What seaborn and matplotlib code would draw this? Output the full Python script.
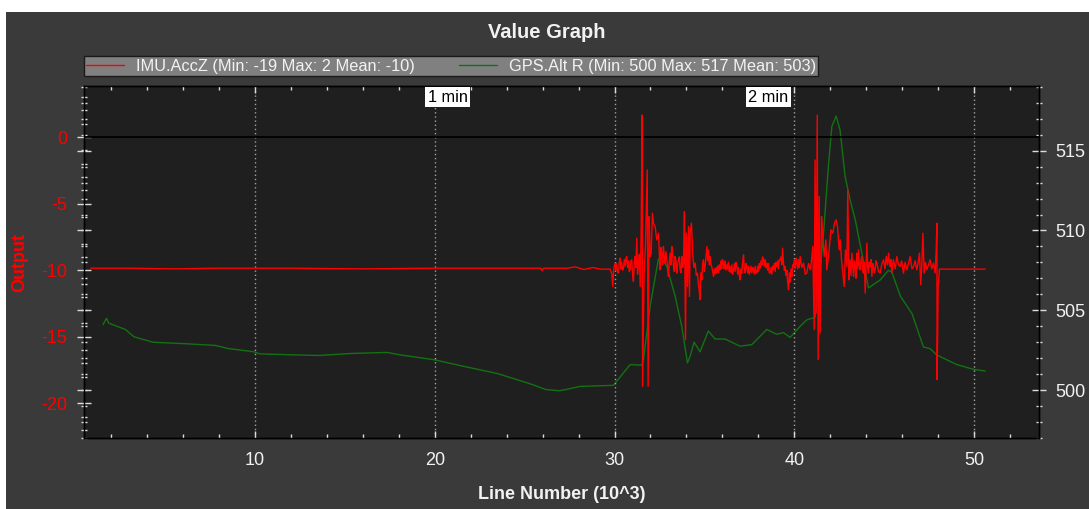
import matplotlib
matplotlib.use("Agg")
import matplotlib.pyplot as plt
import pandas as pd
import seaborn as sns
from matplotlib.patches import Rectangle
from matplotlib.ticker import MultipleLocator
from matplotlib.transforms import blended_transform_factory

sns.set_style("dark")
plt.rcParams["font.family"] = ["Liberation Sans", "DejaVu Sans"]
plt.rcParams["axes.unicode_minus"] = False

# IMU.AccZ samples as (line number in thousands, acceleration)
acc_calm = [
    (0.86, -9.85), (3.0, -9.85), (5.5, -9.9), (8.0, -9.85), (12.0, -9.85), (16.0, -9.9),
    (20.0, -9.85), (24.0, -9.85), (25.9, -9.85), (25.97, -10.05), (26.05, -9.85), (27.4, -9.85),
    (27.8, -9.75), (28.3, -9.95), (28.8, -9.8), (29.20, -9.92), (29.76, -9.92), (29.85, -10.3),
    (29.90, -11.22), (29.95, -10.0),
]
acc_takeoff = [
    (30.03, -9.47), (30.07, -10.0), (30.12, -9.5), (30.17, -10.1), (30.22, -10.22), (30.26, -9.5),
    (30.31, -9.10), (30.36, -9.9), (30.40, -9.4), (30.45, -10.0), (30.50, -9.85), (30.55, -9.2),
    (30.60, -9.7), (30.64, -9.1), (30.68, -8.97), (30.73, -9.8), (30.78, -9.3), (30.82, -10.1),
    (30.87, -9.97), (30.91, -9.3), (30.96, -9.22), (31.00, -10.2), (31.05, -10.85), (31.10, -9.5),
    (31.15, -8.97), (31.19, -9.8), (31.24, -7.60), (31.28, -10.3), (31.33, -9.72), (31.38, -8.8),
    (31.43, -11.22), (31.48, -7.22), (31.54, 1.65), (31.56, -18.72), (31.65, -10.22), (31.72, -8.22),
    (31.82, -2.47), (31.87, -18.72), (31.93, -5.97), (31.98, -8.97), (32.04, -8.72), (32.11, -5.72),
    (32.17, -6.47), (32.26, -6.72), (32.35, -7.72), (32.45, -7.22), (32.50, -9.0), (32.54, -9.97),
    (32.58, -8.3), (32.63, -8.72), (32.68, -9.6), (32.72, -8.22), (32.77, -9.0), (32.82, -9.47),
    (32.86, -8.6), (32.91, -9.22), (32.96, -9.8), (33.00, -10.47), (33.05, -9.4), (33.10, -8.72),
    (33.14, -9.6), (33.19, -8.22), (33.24, -8.9), (33.28, -9.72), (33.33, -10.1), (33.37, -8.97),
    (33.42, -9.3), (33.47, -10.22), (33.51, -9.6), (33.56, -9.22), (33.61, -9.0), (33.65, -9.97),
    (33.70, -10.2), (33.74, -8.97), (33.79, -9.8), (33.84, -9.47), (33.89, -5.60), (33.95, -15.22),
    (34.00, -7.22), (34.06, -11.22), (34.12, -6.72), (34.17, -11.97), (34.21, -7.22), (34.28, -6.47),
    (34.36, -8.97), (34.42, -9.8), (34.49, -9.47), (34.55, -10.4), (34.62, -10.22), (34.66, -11.0),
    (34.71, -11.47), (34.76, -12.22), (34.81, -10.2), (34.86, -10.72), (34.90, -9.5), (34.95, -9.22),
    (35.00, -10.1), (35.04, -9.72), (35.09, -9.0), (35.14, -8.22), (35.18, -9.3), (35.23, -8.47),
    (35.28, -9.6),
]
acc_cruise = [
    (35.32, -8.97), (35.37, -9.6), (35.41, -9.72), (35.46, -10.1), (35.51, -10.47), (35.56, -9.9),
    (35.60, -10.3), (35.65, -9.8), (35.69, -10.22), (35.74, -9.7), (35.79, -10.2), (35.83, -9.6),
    (35.88, -9.97), (35.92, -9.3), (35.97, -9.9), (36.01, -9.2), (36.06, -9.47), (36.10, -9.9),
    (36.15, -9.3), (36.20, -10.0), (36.25, -9.60), (36.29, -9.9), (36.34, -9.4), (36.39, -10.1),
    (36.43, -9.72), (36.48, -10.2), (36.53, -9.6), (36.57, -10.3), (36.62, -9.97), (36.67, -9.5),
    (36.71, -10.1), (36.76, -9.4), (36.81, -9.72), (36.85, -10.3), (36.90, -9.8), (36.95, -10.5),
    (36.99, -10.72), (37.04, -9.9), (37.08, -10.22), (37.13, -9.4), (37.18, -8.85), (37.22, -9.9),
    (37.27, -10.2), (37.32, -9.5), (37.36, -9.72), (37.41, -10.2), (37.46, -9.7), (37.50, -10.3),
    (37.55, -10.10), (37.59, -9.7), (37.64, -10.2), (37.69, -9.8), (37.73, -9.97), (37.78, -10.3),
    (37.83, -9.7), (37.87, -10.2), (37.92, -10.22), (37.97, -9.7), (38.01, -10.1), (38.06, -9.5),
    (38.10, -9.85), (38.15, -9.3), (38.20, -9.6), (38.24, -9.0), (38.29, -9.22), (38.34, -9.7),
    (38.38, -9.2), (38.43, -9.8), (38.47, -9.47), (38.52, -10.0), (38.57, -9.5), (38.61, -10.2),
    (38.66, -10.22), (38.71, -9.8), (38.75, -10.3), (38.80, -9.7), (38.85, -9.97), (38.89, -9.5),
    (38.94, -10.1), (38.98, -9.4), (39.03, -9.72), (39.08, -9.3), (39.12, -9.9), (39.17, -9.2),
    (39.22, -9.22), (39.26, -9.0), (39.31, -9.6), (39.35, -8.35), (39.40, -9.4), (39.45, -10.0),
    (39.49, -9.72), (39.54, -10.4), (39.59, -10.0), (39.63, -10.8), (39.68, -11.47), (39.73, -10.2),
    (39.77, -10.9), (39.82, -9.9), (39.87, -10.47), (39.91, -9.6), (39.96, -9.72), (40.01, -9.2),
    (40.05, -9.9), (40.10, -9.1), (40.14, -9.35), (40.19, -9.9), (40.24, -9.2), (40.28, -9.8),
    (40.33, -8.97), (40.42, -9.8), (40.52, -9.47), (40.61, -10.3), (40.70, -10.22), (40.80, -9.5),
    (40.89, -9.97), (40.96, -9.3),
]
acc_landing = [
    (41.03, -8.22), (41.11, -14.47), (41.16, -1.72), (41.22, -13.22), (41.28, 1.65), (41.33, -16.72),
    (41.39, -4.47), (41.44, -14.72), (41.52, -5.97), (41.57, -7.22), (41.67, -8.97), (41.76, -7.72),
    (41.81, -9.97), (41.91, -8.97), (42.04, -6.97), (42.15, -7.22), (42.24, -6.47), (42.33, -6.22),
    (42.41, -6.72), (42.50, -8.47), (42.56, -7.72), (42.63, -9.22), (42.70, -10.22), (42.78, -11.22),
    (42.85, -8.47), (42.93, -9.72), (42.98, -3.97), (43.04, -10.72), (43.08, -9.2), (43.11, -9.47),
    (43.16, -10.4), (43.21, -8.72), (43.26, -9.8), (43.30, -10.47), (43.35, -9.3), (43.39, -9.72),
    (43.44, -10.6), (43.48, -8.72), (43.53, -9.9), (43.58, -8.47), (43.62, -9.6), (43.67, -9.97),
    (43.72, -9.2), (43.76, -8.97), (43.81, -10.0), (43.85, -10.22), (43.90, -9.4), (43.95, -11.72),
    (44.00, -9.6), (44.04, -7.97), (44.09, -9.8), (44.13, -10.22), (44.18, -9.4), (44.23, -9.72),
    (44.28, -9.2), (44.32, -10.47), (44.37, -9.5), (44.41, -9.72), (44.46, -10.2), (44.50, -9.97),
    (44.55, -9.3), (44.60, -9.47), (44.69, -10.1), (44.78, -10.22), (44.88, -9.5), (44.97, -9.22),
    (45.05, -9.9), (45.12, -8.97), (45.19, -9.6), (45.25, -8.72), (45.30, -9.5), (45.34, -9.72),
    (45.38, -9.2), (45.43, -10.22), (45.48, -9.5), (45.52, -9.22), (45.62, -9.9), (45.71, -8.97),
    (45.80, -9.6), (45.89, -9.72), (45.98, -9.3), (46.08, -10.22), (46.17, -9.4), (46.27, -9.97),
    (46.36, -9.5), (46.45, -8.97), (46.55, -9.9), (46.64, -9.72), (46.73, -9.3), (46.82, -9.97),
    (46.90, -9.4), (46.97, -8.72), (47.04, -11.10), (47.10, -9.6), (47.16, -7.22), (47.23, -10.22),
    (47.30, -9.4), (47.38, -9.97), (47.47, -9.6), (47.56, -9.22), (47.65, -9.9), (47.75, -9.47),
    (47.84, -10.22), (47.90, -8.47), (47.94, -6.47), (47.95, -18.22), (48.01, -11.22), (48.08, -9.92),
    (50.62, -9.92),
]

# GPS.Alt samples: line number (thousands) and altitude
alt_line = [
    1.54, 1.73, 1.85, 2.21, 2.78, 3.26, 4.32, 6.23, 7.77, 8.53, 9.95, 10.26, 12.37, 13.52,
    15.43, 17.35, 18.11, 19.97, 21.56, 23.48, 25.4, 26.16, 26.93, 27.31, 28.08, 29.94, 30.87,
    31.52, 31.61, 31.98, 32.44, 32.63, 32.91, 33.37, 33.74, 34.06, 34.2, 34.43, 34.76, 35.22,
    35.6, 36.15, 36.99, 37.64, 38.47, 39.03, 39.4, 39.77, 40.33, 40.7, 41.16, 41.35, 41.63,
    41.9, 42.09, 42.33, 42.55, 42.83, 43.11, 43.39, 43.76, 44.13, 44.78, 45.24, 45.43, 45.9,
    46.55, 47.19, 47.56, 47.93, 49.04, 49.97, 50.62,
]
gps_alt = [
    504.1, 504.5, 504.2, 504.04, 503.8, 503.34, 503.0, 502.9, 502.8, 502.6, 502.4, 502.27, 502.2, 502.17,
    502.3, 502.36, 502.2, 501.9, 501.5, 501.04, 500.36, 500.04, 499.96, 500.04, 500.23, 500.3, 501.6,
    501.56, 501.9, 505.25, 508.2, 508.25, 507.75, 505.9, 504.0, 501.7, 502.1, 503.0, 502.4, 503.7,
    503.2, 503.2, 502.75, 502.85, 503.8, 503.5, 503.6, 503.3, 504.0, 504.4, 504.56, 506.5, 509.8,
    514.0, 516.5, 517.17, 516.3, 513.4, 511.9, 510.7, 508.6, 506.4, 506.9, 507.5, 507.4, 505.9,
    504.8, 502.7, 502.6, 502.2, 501.6, 501.3, 501.2,
]

acc_label = "IMU.AccZ (Min: -19 Max: 2 Mean: -10)"
alt_label = "GPS.Alt R (Min: 500 Max: 517 Mean: 503)"
title_text = "Value Graph"
x_title = "Line Number (10^3)"
y_title = "Output"
# line numbers at which elapsed flight time reaches each mark
time_mark_line = [21.83, 39.69]
time_mark_text = ["1 min", "2 min"]

PANEL = "#3a3a3a"
PLOT_BG = "#1f1f1f"
TICK = "#dcdcdc"
TEXT = "#f2f2f2"
RED = "#ff0000"
GREEN = "#127212"

W, H = 1089, 509
fig = plt.figure(figsize=(W / 100, H / 100), dpi=100, facecolor="white")
fig.patches.append(Rectangle((6 / W, 0), 1, (H - 12) / H, transform=fig.transFigure,
                             facecolor=PANEL, edgecolor="none", zorder=-10))

ax = fig.add_axes([84 / W, 1 - 438 / H, (1039 - 84) / W, (438 - 86) / H])
ax2 = ax.twinx()
# acceleration drawn above altitude
ax.set_zorder(ax2.get_zorder() + 1)
ax.patch.set_visible(False)
ax2.patch.set_visible(True)
ax2.patch.set_facecolor(PLOT_BG)

acc_df = pd.DataFrame(acc_calm + acc_takeoff + acc_cruise + acc_landing, columns=["line", "value"])
alt_df = pd.DataFrame({"line": alt_line, "value": gps_alt})

sns.lineplot(data=alt_df, x="line", y="value", ax=ax2, color=GREEN, lw=1.0,
             sort=False, estimator=None, label=alt_label, legend=False)
sns.lineplot(data=acc_df, x="line", y="value", ax=ax, color=RED, lw=1.0,
             sort=False, estimator=None, label=acc_label, legend=False)

ax.axhline(0, color="black", lw=1.3, zorder=1)

ax.set_xlim(0.48, 53.62)
ax.set_ylim(-22.6, 3.83)
ax2.set_ylim(497.0, 519.05)

ax.xaxis.set_major_locator(MultipleLocator(10))
ax.xaxis.set_minor_locator(MultipleLocator(2))
ax.yaxis.set_major_locator(MultipleLocator(5))
ax.yaxis.set_minor_locator(MultipleLocator(1))
ax2.yaxis.set_major_locator(MultipleLocator(5))
ax2.yaxis.set_minor_locator(MultipleLocator(1))

ax.grid(False)
ax2.grid(False)
ax.xaxis.grid(True, which="major", color="#a0a0a0", linestyle=(0, (1, 2)), lw=1.0)

for a in (ax, ax2):
    for s in a.spines.values():
        s.set_color("black")
        s.set_linewidth(1.0)
        s.set_visible(True)

ax.tick_params(axis="x", which="major", direction="in", length=5, width=1, color=TICK,
               top=True, bottom=True, labelsize=13, labelcolor=TEXT, pad=10)
ax.tick_params(axis="x", which="minor", direction="in", length=3, width=1, color=TICK,
               top=True, bottom=True)
ax.tick_params(axis="y", which="major", direction="inout", length=10, width=1, color=TICK,
               left=True, right=False, labelsize=13, labelcolor=RED, pad=7)
ax.tick_params(axis="y", which="minor", direction="inout", length=4.3, width=1, color=TICK,
               left=True, right=False)
ax2.tick_params(axis="y", which="major", direction="inout", length=10, width=1, color=TICK,
                left=True, right=True, labelleft=False, labelright=True,
                labelsize=13, labelcolor=TEXT, pad=6.5)
ax2.tick_params(axis="y", which="minor", direction="inout", length=4.3, width=1, color=TICK,
                left=True, right=True)
ax2.set_ylabel("")

ax.set_xlabel(x_title, fontsize=13, fontweight="bold", color=TEXT, labelpad=12.3)
ax.set_ylabel(y_title, fontsize=13, fontweight="bold", color=RED, labelpad=9.6)

fig.text(547 / W, 1 - 32.5 / H, title_text, ha="center", va="center",
         fontsize=14.5, fontweight="bold", color=TEXT)

# elapsed-time markers along the top edge
trans = blended_transform_factory(ax.transData, ax.transAxes)
for pos, txt in zip(time_mark_line, time_mark_text):
    ax.text(pos, 0.99, txt, transform=trans, ha="right", va="top", fontsize=11.8,
            color="black", zorder=5,
            bbox=dict(boxstyle="square,pad=0.15", fc="white", ec="none"))

handles = ax.get_lines()[:1] + ax2.get_lines()[:1]
leg = ax.legend(handles, [acc_label, alt_label], loc="lower left",
                bbox_to_anchor=(0, 1 + 10 / 352), ncol=2, frameon=True, fontsize=11.8,
                facecolor="#808080", edgecolor="#1a1a1a", framealpha=1, fancybox=False,
                borderpad=0.15, handlelength=2.3, handletextpad=0.7, columnspacing=2.75,
                borderaxespad=0, labelcolor="#f2f2f2")
leg.get_frame().set_linewidth(1.0)

fig.savefig("out.png", dpi=100, facecolor=fig.get_facecolor())
